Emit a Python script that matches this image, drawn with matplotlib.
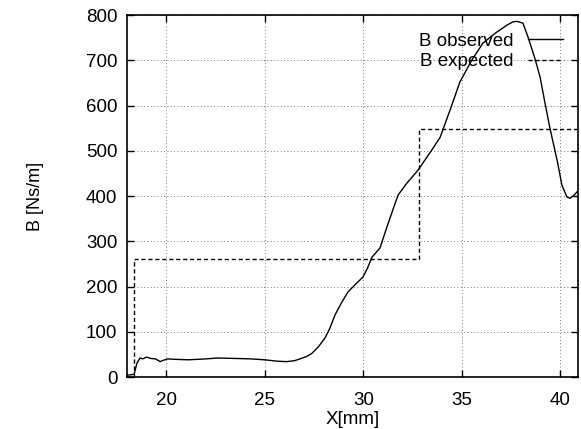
import matplotlib
matplotlib.use('Agg')
import matplotlib.pyplot as plt
import numpy as np

# B observed
x_obs = [18.0, 18.2, 18.36, 18.5, 18.66, 18.8, 19.0, 19.2, 19.45, 19.68, 19.85, 20.05,
         20.5, 21.1, 22.0, 22.6, 23.5, 24.3, 25.0, 25.6, 26.1, 26.5, 26.78, 27.1, 27.38,
         27.7, 28.05, 28.3, 28.56, 28.9, 29.22, 29.6, 29.98, 30.2, 30.44, 30.84, 31.2,
         31.5, 31.76, 32.2, 32.77, 33.1, 33.48, 33.9, 34.4, 34.9, 35.5, 36.07, 36.7,
         37.3, 37.6, 37.8, 38.1, 38.36, 38.7, 38.97, 39.2, 39.47, 39.83, 40.08, 40.33, 40.5,
         40.7, 40.9]
b_obs = [4, 5, 6, 30, 42, 40, 44, 41, 40, 34, 37, 40,
         39, 38, 40, 42, 41, 40, 38, 35, 34, 36, 40, 45, 52,
         66, 86, 108, 137, 165, 188, 205, 221, 240, 265, 285, 332,
         370, 402, 428, 457, 478, 502, 530, 590, 652, 700, 738, 760,
         778, 785, 786, 782, 751, 705, 663, 610, 550, 480, 424, 398, 395,
         402, 412]

# B expected (step profile)
x_exp = [18.0, 18.37, 18.37, 32.82, 32.82, 40.9]
b_exp = [0, 0, 261, 261, 548, 548]

x_ticks = [20, 25, 30, 35, 40]
y_ticks = [0, 100, 200, 300, 400, 500, 600, 700, 800]

plt.rcParams['font.family'] = ['Liberation Sans', 'DejaVu Sans']

fig = plt.figure(figsize=(5.81, 4.29), dpi=100)
ax = fig.add_axes([0.2186, 0.1212, 0.7764, 0.8438])

ax.plot(x_obs, b_obs, color='black', linewidth=1.0, label='B observed',
        solid_joinstyle='round')
ax.plot(x_exp, b_exp, color='black', linewidth=1.0, linestyle=(0, (3, 2)), label='B expected')

ax.set_xlim(18, 40.9)
ax.set_ylim(0, 800)
ax.set_xticks(x_ticks)
ax.set_yticks(y_ticks)
ax.tick_params(direction='in', top=True, right=True, labelsize=13.5, length=5, width=1)
ax.tick_params(axis='x', pad=11)
ax.tick_params(axis='y', pad=7)
ax.grid(True, color='black', linestyle=(0, (1, 3)), linewidth=0.6, alpha=0.7)
for s in ax.spines.values():
    s.set_linewidth(1.2)

ax.set_xlabel('X[mm]', fontsize=13.5, labelpad=1)
ax.set_ylabel('B [Ns/m]', fontsize=13, labelpad=30)

leg = ax.legend(loc='upper right', bbox_to_anchor=(0.992, 0.983), frameon=False, markerfirst=False,
                fontsize=13.5, handlelength=1.9, handletextpad=0.75, labelspacing=0.2,
                borderaxespad=0.2)

plt.savefig('out.png', dpi=100)
